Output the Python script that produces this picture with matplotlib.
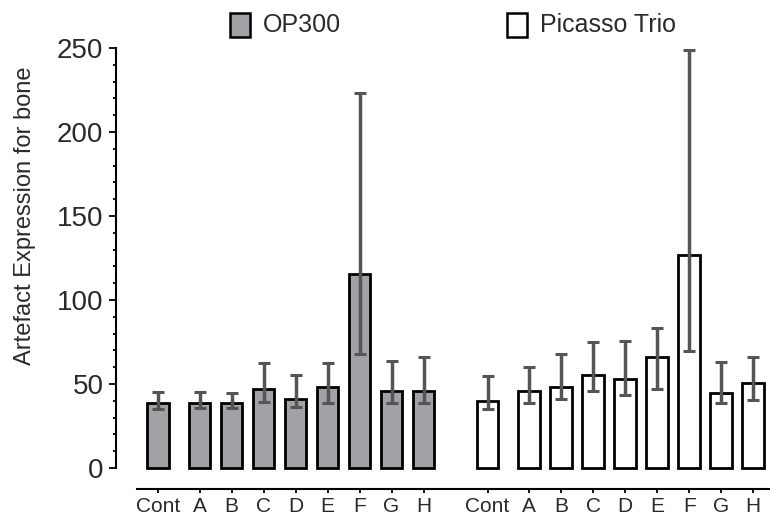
import numpy as np
import matplotlib
matplotlib.use('Agg')
import matplotlib.pyplot as plt
import matplotlib.patches as patches
from matplotlib.ticker import FixedLocator

plt.rcParams['font.family'] = ['Liberation Sans', 'DejaVu Sans']

# datos
categorias = ['Cont', 'A', 'B', 'C', 'D', 'E', 'F', 'G', 'H']
op300 = [38.5, 38.5, 38.5, 47.0, 40.9, 48.2, 115.5, 45.6, 45.6]
op300_alto = [45.0, 45.0, 44.5, 62.3, 55.4, 62.3, 223.0, 63.7, 65.9]
op300_bajo = [35.0, 35.5, 35.5, 39.5, 36.1, 38.5, 67.9, 38.5, 38.5]
picasso = [39.9, 45.8, 48.4, 55.4, 53.0, 66.3, 126.8, 44.4, 50.4]
picasso_alto = [55.0, 60.3, 67.9, 74.8, 75.4, 83.5, 249.0, 62.9, 66.3]
picasso_bajo = [35.3, 38.5, 40.9, 45.6, 43.3, 47.0, 69.8, 38.5, 40.3]
series = ['OP300', 'Picasso Trio']
yticks = [0, 50, 100, 150, 200, 250]

# posiciones: Cont separado del resto, y un hueco entre grupos
pos1 = np.array([0.0] + [1.3 + i for i in range(8)])
pos2 = pos1 + 10.3
ancho = 0.67

fig = plt.figure(figsize=(7.7, 5.17), dpi=100)
ax = fig.add_axes([116 / 770, 28 / 517, 654 / 770, 441 / 517])

gris = '#a2a2a6'
texto = '#2a2a2a'
ax.bar(pos1, op300, width=ancho, color=gris, edgecolor='black', linewidth=2, zorder=2)
ax.bar(pos2, picasso, width=ancho, color='white', edgecolor='black', linewidth=2, zorder=2)


def errores(ax, x, media, alto, bajo):
    media = np.array(media)
    err = [media - np.array(bajo), np.array(alto) - media]
    ax.errorbar(x, media, yerr=err, fmt='none', ecolor='#555555', elinewidth=2.5,
                capsize=4.5, capthick=2.2, zorder=3, clip_on=False)


errores(ax, pos1, op300, op300_alto, op300_bajo)
errores(ax, pos2, picasso, picasso_alto, picasso_bajo)

ax.set_xlim(-1.31, 19.125)
ax.set_ylim(-12.5, 250)
ax.spines['top'].set_visible(False)
ax.spines['right'].set_visible(False)
ax.spines['left'].set_bounds(0, 250)
ax.spines['bottom'].set_bounds(-0.66, 19.125)
ax.spines['left'].set_linewidth(1.5)
ax.spines['bottom'].set_linewidth(1.5)

ax.set_yticks(yticks)
menores = [v for v in range(10, 250, 10) if v % 50 != 0]
ax.yaxis.set_minor_locator(FixedLocator(menores))
ax.tick_params(axis='y', which='major', length=5, width=1.3, labelsize=20, pad=4,
               labelcolor=texto)
ax.tick_params(axis='y', which='minor', length=2.5, width=1.3)
ax.set_xticks(np.concatenate([pos1, pos2]))
ax.set_xticklabels(categorias + categorias)
ax.tick_params(axis='x', length=3, width=1.3, labelsize=15, pad=3, labelcolor=texto)

fig.text(25 / 770, 1 - 216 / 517, 'Artefact Expression for bone', rotation=90,
         ha='center', va='center', fontsize=17, color=texto)

# leyenda arriba
fig.patches.append(patches.Rectangle((230 / 770, 1 - 37 / 517), 20 / 770, 24 / 517,
                                     transform=fig.transFigure, facecolor=gris,
                                     edgecolor='black', linewidth=1.8))
fig.text(263 / 770, 1 - 25 / 517, series[0], ha='left', va='center', fontsize=18,
         color=texto)
fig.patches.append(patches.Rectangle((507 / 770, 1 - 37 / 517), 20 / 770, 24 / 517,
                                     transform=fig.transFigure, facecolor='white',
                                     edgecolor='black', linewidth=1.8))
fig.text(540 / 770, 1 - 25 / 517, series[1], ha='left', va='center', fontsize=18,
         color=texto)

fig.savefig('out.png', dpi=100)
